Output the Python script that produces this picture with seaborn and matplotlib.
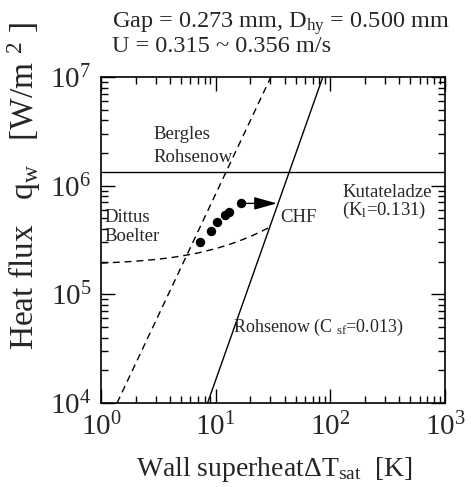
import matplotlib
matplotlib.use("Agg")
import matplotlib.pyplot as plt
import pandas as pd
import seaborn as sns
from matplotlib.patches import FancyArrowPatch

# Measured boiling data (wall superheat [K], heat flux [W/m^2])
dt_meas = [7.3, 9.05, 10.35, 12.05, 13.05, 16.5]
q_meas = [3.05e5, 3.85e5, 4.59e5, 5.37e5, 5.76e5, 6.87e5]

# Bergles-Rohsenow onset of nucleate boiling
dt_br = [1.38, 30.3]
q_br = [1e4, 1e7]

# Rohsenow pool boiling (C_sf = 0.013)
dt_roh = [8.5, 86.0]
q_roh = [1e4, 1e7]

# Dittus-Boelter single-phase convection
dt_db = [1, 1.5, 2, 3, 4, 5, 7, 10, 13, 16, 20, 25, 31]
q_db = [1.940e5, 1.979e5, 2.017e5, 2.094e5, 2.171e5, 2.248e5, 2.402e5,
        2.633e5, 2.864e5, 3.095e5, 3.403e5, 3.788e5, 4.250e5]

# Kutateladze critical heat flux (K_l = 0.131)
q_chf = 1.33e6
dt_arrow_end = 34.2

x_ticks = [1, 10, 100, 1000]
x_ticklabels = [r"$10^{0}$", r"$10^{1}$", r"$10^{2}$", r"$10^{3}$"]
y_ticks = [1e4, 1e5, 1e6, 1e7]
y_ticklabels = [r"$10^{4}$", r"$10^{5}$", r"$10^{6}$", r"$10^{7}$"]

sns.set_theme(style="ticks")
plt.rcParams["font.family"] = ["Liberation Serif", "DejaVu Serif"]
plt.rcParams["mathtext.fontset"] = "custom"
plt.rcParams["mathtext.rm"] = "Liberation Serif"
plt.rcParams["mathtext.it"] = "Liberation Serif:italic"
plt.rcParams["mathtext.default"] = "regular"

fig = plt.figure(figsize=(4.71, 4.87), dpi=100)
ax = fig.add_axes([101 / 471, 1 - 403 / 487, 344 / 471, 326 / 487])
ax.set_xscale("log")
ax.set_yscale("log")

meas = pd.DataFrame({"dt": dt_meas, "q": q_meas})
br = pd.DataFrame({"dt": dt_br, "q": q_br})
roh = pd.DataFrame({"dt": dt_roh, "q": q_roh})
db = pd.DataFrame({"dt": dt_db, "q": q_db})

line_kw = dict(color="black", lw=1.0, estimator=None, sort=False, ax=ax, legend=False)
sns.lineplot(data=br, x="dt", y="q", **line_kw)
ax.lines[-1].set_dashes((5, 3.5))
sns.lineplot(data=db, x="dt", y="q", **line_kw)
ax.lines[-1].set_dashes((5, 3.5))
sns.lineplot(data=roh, x="dt", y="q", **line_kw)
ax.axhline(q_chf, color="black", lw=1.0)

sns.scatterplot(data=meas, x="dt", y="q", color="black", s=46,
                edgecolor="black", linewidth=0, ax=ax, zorder=5, legend=False)

arrow = FancyArrowPatch((dt_meas[-1], q_meas[-1]), (dt_arrow_end, q_meas[-1]),
                        arrowstyle="-|>,head_length=1.0,head_width=0.28",
                        mutation_scale=14, color="black", lw=1.0,
                        shrinkA=0, shrinkB=0, zorder=6)
ax.add_patch(arrow)

ax.set_xlim(1, 1000)
ax.set_ylim(1e4, 1e7)
ax.set_xticks(x_ticks, x_ticklabels)
ax.set_yticks(y_ticks, y_ticklabels)
ax.tick_params(which="both", direction="in", top=True, right=True,
               color="black", width=1.0)
ax.tick_params(which="major", length=10, labelsize=21, pad=7)
ax.tick_params(which="minor", length=5)
for sp in ax.spines.values():
    sp.set_color("black")
    sp.set_linewidth(1.2)

fs = 13.5
ax.text(2.89, 2.93e6, "Bergles", fontsize=fs, va="center")
ax.text(2.89, 1.80e6, "Rohsenow", fontsize=fs, va="center")
ax.text(1.08, 5.14e5, "Dittus", fontsize=fs, va="center")
ax.text(1.08, 3.37e5, "Boelter", fontsize=fs, va="center")
ax.text(36.7, 5.14e5, "CHF", fontsize=fs, va="center")
ax.text(127, 8.73e5, "Kutateladze", fontsize=fs, va="center")
ax.text(127, 5.97e5, r"(K$_{l}$=0.131)", fontsize=fs, va="center")
ax.text(14.06, 5.0e4, r"Rohsenow (C $_{sf}$=0.013)", fontsize=13, va="center")

ax.set_xlabel(r"Wall superheatΔT$_{sat}$  [K]", fontsize=20)
ax.xaxis.set_label_coords(0.505, -0.16)
ax.xaxis.label.set_va("top")
ax.set_ylabel(r"Heat flux   q$_{w}$   [W/m $^{2}$ ]", fontsize=24)
ax.yaxis.set_label_coords(-0.17, 0.665)

fig.text(112 / 471, 1 - 24 / 487, r"Gap = 0.273 mm, D$_{hy}$ = 0.500 mm",
         fontsize=17.5, va="center", ha="left")
fig.text(112 / 471, 1 - 47 / 487, r"U = 0.315 ~ 0.356 m/s",
         fontsize=17.5, va="center", ha="left")

fig.savefig("out.png", dpi=100)
